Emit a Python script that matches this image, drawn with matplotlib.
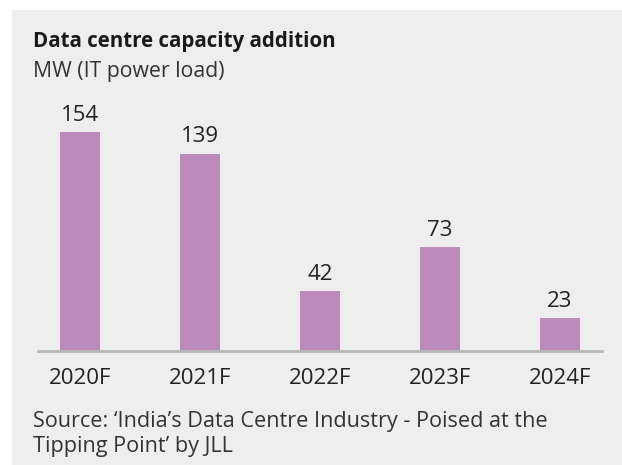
import matplotlib
matplotlib.use("Agg")
import matplotlib.pyplot as plt
from matplotlib.patches import Rectangle

categories = ["2020F", "2021F", "2022F", "2023F", "2024F"]
values = [154, 139, 42, 73, 23]

title = "Data centre capacity addition"
subtitle = "MW (IT power load)"
source = "Source: \u2018India\u2019s Data Centre Industry - Poised at the\nTipping Point\u2019 by JLL"

W, H = 622, 465
fig = plt.figure(figsize=(W / 100, H / 100), dpi=100)
fig.patch.set_facecolor("white")
plt.rcParams["font.family"] = ["Open Sans", "DejaVu Sans"]

bg = "#eeeeee"
fig.patches.append(Rectangle((12 / W, 0), 1 - 12 / W, 1 - 10 / H, transform=fig.transFigure,
                             facecolor=bg, edgecolor="none", zorder=-10))

# axes: left edge 38px, right 602px, bottom 351px, top 90px
ax_l, ax_r, ax_b, ax_t = 38, 602, 351, 90
ax = fig.add_axes([ax_l / W, 1 - ax_b / H, (ax_r - ax_l) / W, (ax_b - ax_t) / H])
ax.set_facecolor("none")
px_per_unit = 1.42
ax.set_ylim(0, (ax_b - ax_t) / px_per_unit)
ax.set_xlim(-0.35, 4.35)

x = list(range(len(categories)))
bars = ax.bar(x, values, width=1 / 3, color="#bc8bbb", zorder=2)
for xi, v in zip(x, values):
    ax.annotate(str(v), (xi, v), xytext=(0, 4.5), textcoords="offset points",
                ha="center", va="bottom", fontsize=16, color="#222222")

for s in ["top", "right", "left"]:
    ax.spines[s].set_visible(False)
ax.spines["bottom"].set_color("#b8b8b8")
ax.spines["bottom"].set_linewidth(2)
ax.set_yticks([])
ax.set_xticks(x)
ax.set_xticklabels(categories, fontsize=16, color="#222222")
ax.tick_params(axis="x", length=0, pad=12)

fig.text(33 / W, 1 - 42 / H, title, fontsize=14.8, fontweight="bold", color="#1a1a1a",
         ha="left", va="center")
fig.text(33 / W, 1 - 72 / H, subtitle, fontsize=15.3, color="#333333", ha="left", va="center")
fig.text(33 / W, 1 - 434 / H, source, fontsize=15.6, color="#333333", ha="left", va="center",
         linespacing=1.27)

fig.savefig("out.png", dpi=100, facecolor=fig.get_facecolor())
